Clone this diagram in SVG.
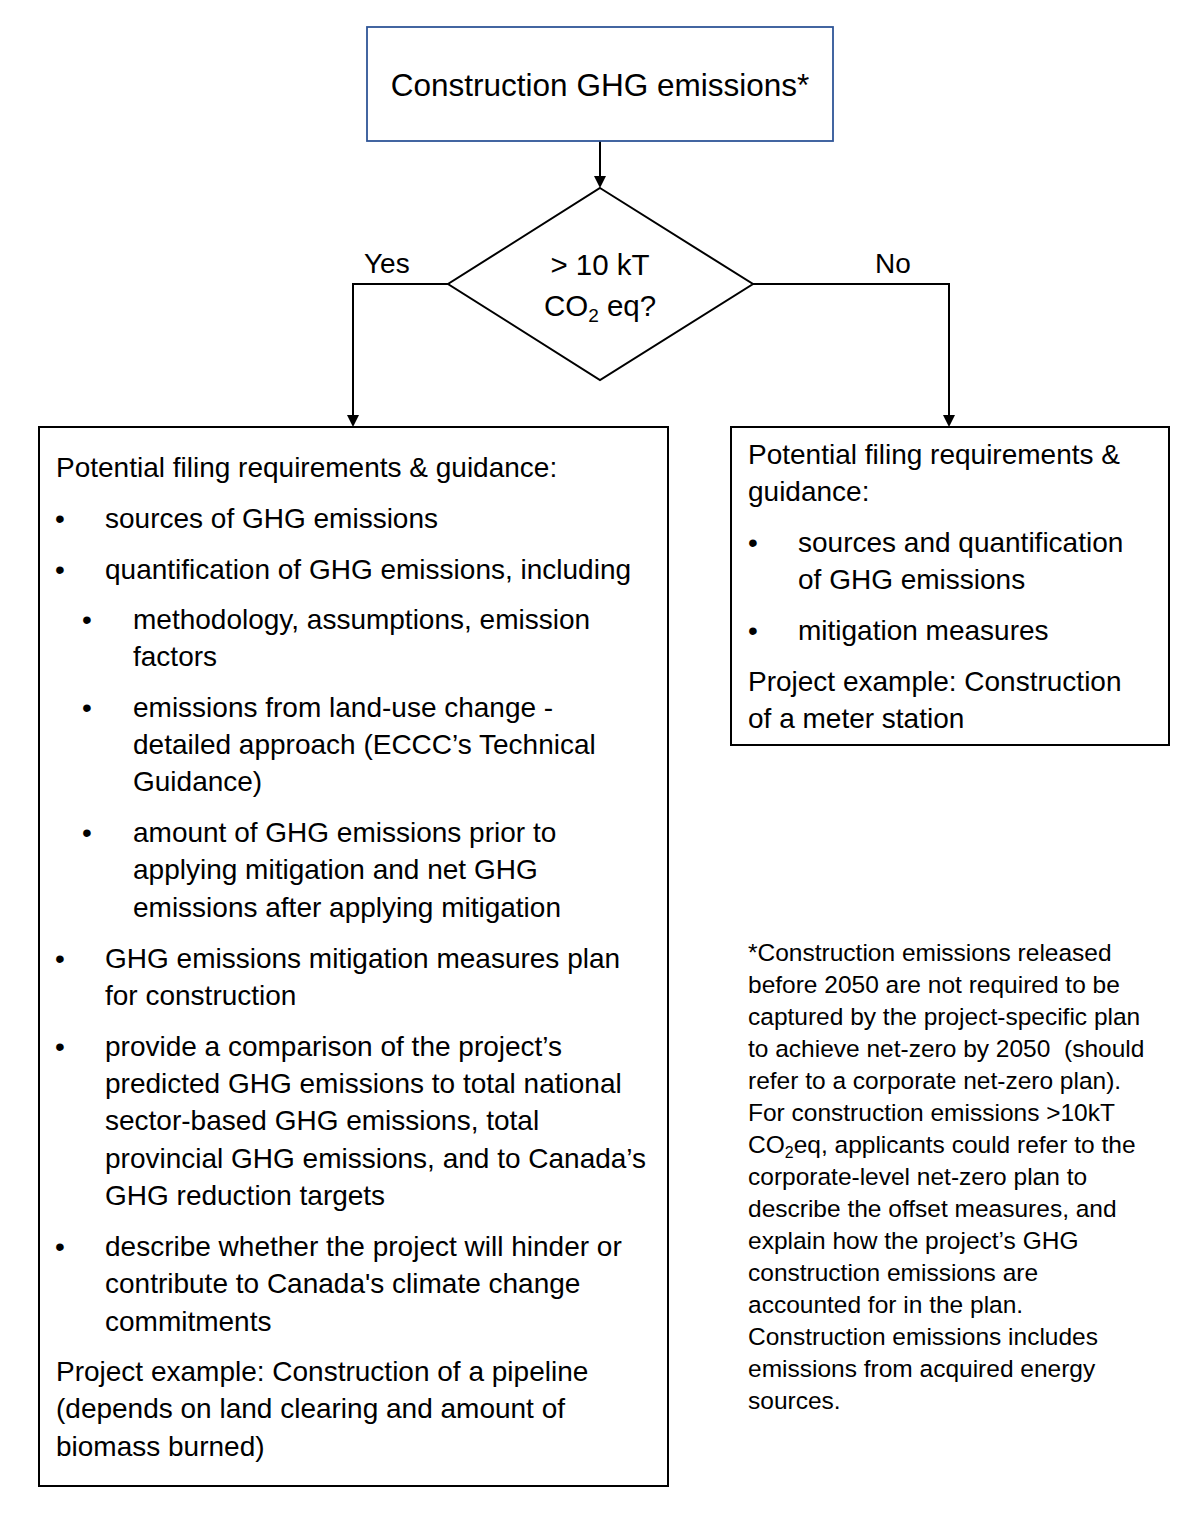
<svg xmlns="http://www.w3.org/2000/svg" width="1200" height="1520" viewBox="0 0 1200 1520">
<style>
  text { font-family: "Liberation Sans", Arial, sans-serif; fill: #000; }
  .title { font-size: 31.5px; }
  .body { font-size: 28px; }
  .lbl { font-size: 28px; }
  .dia { font-size: 29.5px; }
  .note { font-size: 24.5px; }
  .box { fill: #fff; stroke: #000; stroke-width: 2; }
  .conn { fill: none; stroke: #000; stroke-width: 2; }
</style>
<defs>
  <marker id="ah" viewBox="0 0 12 12" refX="2" refY="6" markerWidth="12" markerHeight="12" orient="auto" markerUnits="userSpaceOnUse">
    <path d="M0,0 L12,6 L0,12 z" fill="#000"/>
  </marker>
</defs>
<rect width="1200" height="1520" fill="#fff"/>

<g id="connectors">
  <path class="conn" d="M600,141 V178" marker-end="url(#ah)"/>
  <path class="conn" d="M448,284 H353 V417" marker-end="url(#ah)"/>
  <path class="conn" d="M753,284 H949 V417" marker-end="url(#ah)"/>
  <text class="lbl" x="364" y="273">Yes</text>
  <text class="lbl" x="875" y="273">No</text>
</g>

<g id="start">
  <rect x="367" y="27" width="466" height="114" fill="#fff" stroke="#2F5597" stroke-width="1.8"/>
  <text class="title" x="600" y="96" text-anchor="middle">Construction GHG emissions*</text>
</g>

<g id="decision">
  <polygon points="600,188 753,284 600,380 448,284" fill="#fff" stroke="#000" stroke-width="2"/>
  <text class="dia" x="600" y="275" text-anchor="middle">&gt; 10 kT</text>
  <text class="dia" x="600" y="316" text-anchor="middle">CO<tspan font-size="19" dy="6">2</tspan><tspan dy="-6"> eq?</tspan></text>
</g>

<g id="yes-box">
  <rect class="box" x="39" y="427" width="629" height="1059"/>
  <g class="body">
    <text class="body" x="56" y="477">Potential filing requirements &amp; guidance:</text>
    <text class="body" x="55" y="528">•</text>
    <text class="body" x="105" y="528">sources of GHG emissions</text>
    <text class="body" x="55" y="579">•</text>
    <text class="body" x="105" y="579">quantification of GHG emissions, including</text>
    <text class="body" x="82" y="629">•</text>
    <text class="body" x="133" y="629">methodology, assumptions, emission</text>
    <text class="body" x="133" y="666">factors</text>
    <text class="body" x="82" y="717">•</text>
    <text class="body" x="133" y="717">emissions from land-use change -</text>
    <text class="body" x="133" y="754">detailed approach (ECCC’s Technical</text>
    <text class="body" x="133" y="791">Guidance)</text>
    <text class="body" x="82" y="842">•</text>
    <text class="body" x="133" y="842">amount of GHG emissions prior to</text>
    <text class="body" x="133" y="879">applying mitigation and net GHG</text>
    <text class="body" x="133" y="917">emissions after applying mitigation</text>
    <text class="body" x="55" y="968">•</text>
    <text class="body" x="105" y="968">GHG emissions mitigation measures plan</text>
    <text class="body" x="105" y="1005">for construction</text>
    <text class="body" x="55" y="1056">•</text>
    <text class="body" x="105" y="1056">provide a comparison of the project’s</text>
    <text class="body" x="105" y="1093">predicted GHG emissions to total national</text>
    <text class="body" x="105" y="1130">sector-based GHG emissions, total</text>
    <text class="body" x="105" y="1168">provincial GHG emissions, and to Canada’s</text>
    <text class="body" x="105" y="1205">GHG reduction targets</text>
    <text class="body" x="55" y="1256">•</text>
    <text class="body" x="105" y="1256">describe whether the project will hinder or</text>
    <text class="body" x="105" y="1293">contribute to Canada's climate change</text>
    <text class="body" x="105" y="1331">commitments</text>
    <text class="body" x="56" y="1381">Project example: Construction of a pipeline</text>
    <text class="body" x="56" y="1418">(depends on land clearing and amount of</text>
    <text class="body" x="56" y="1456">biomass burned)</text>
  </g>
</g>

<g id="no-box">
  <rect class="box" x="731" y="427" width="438" height="318"/>
  <text class="body" x="748" y="464">Potential filing requirements &amp;</text>
  <text class="body" x="748" y="501">guidance:</text>
  <text class="body" x="748" y="552">•</text>
  <text class="body" x="798" y="552">sources and quantification</text>
  <text class="body" x="798" y="589">of GHG emissions</text>
  <text class="body" x="748" y="640">•</text>
  <text class="body" x="798" y="640">mitigation measures</text>
  <text class="body" x="748" y="691">Project example: Construction</text>
  <text class="body" x="748" y="728">of a meter station</text>
</g>

<g id="footnote">
  <text class="note" x="748" y="961">*Construction emissions released</text>
  <text class="note" x="748" y="993">before 2050 are not required to be</text>
  <text class="note" x="748" y="1025">captured by the project-specific plan</text>
  <text class="note" x="748" y="1057" xml:space="preserve">to achieve net-zero by 2050  (should</text>
  <text class="note" x="748" y="1089">refer to a corporate net-zero plan).</text>
  <text class="note" x="748" y="1121">For construction emissions &gt;10kT</text>
  <text class="note" x="748" y="1153">CO<tspan font-size="16" dy="5">2</tspan><tspan dy="-5">eq, applicants could refer to the</tspan></text>
  <text class="note" x="748" y="1185">corporate-level net-zero plan to</text>
  <text class="note" x="748" y="1217">describe the offset measures, and</text>
  <text class="note" x="748" y="1249">explain how the project’s GHG</text>
  <text class="note" x="748" y="1281">construction emissions are</text>
  <text class="note" x="748" y="1313">accounted for in the plan.</text>
  <text class="note" x="748" y="1345">Construction emissions includes</text>
  <text class="note" x="748" y="1377">emissions from acquired energy</text>
  <text class="note" x="748" y="1409">sources.</text>
</g>
</svg>
